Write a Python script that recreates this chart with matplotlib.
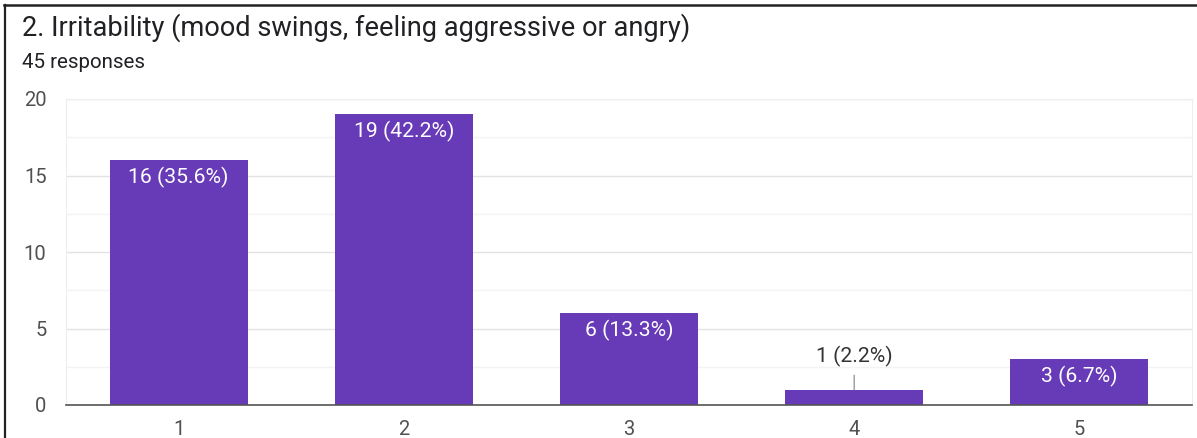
import numpy as np
import matplotlib
matplotlib.use("Agg")
import matplotlib.pyplot as plt
from matplotlib.lines import Line2D

# survey answers for question 2
categories = ["1", "2", "3", "4", "5"]
counts = [16, 19, 6, 1, 3]
total_responses = 45
title = "2. Irritability (mood swings, feeling aggressive or angry)"
subtitle = f"{total_responses} responses"
y_ticks = [0, 5, 10, 15, 20]

plt.rcParams['font.family'] = ['Roboto', 'DejaVu Sans']

W, H = 1197, 438
fig = plt.figure(figsize=(W / 100, H / 100), dpi=100)
fig.patch.set_facecolor('white')

# frame lines of the card box
fig.add_artist(Line2D([4 / W, 1], [1 - 5 / H, 1 - 5 / H], color='#222222', lw=1.8))
fig.add_artist(Line2D([5 / W, 5 / W], [0, 1 - 5 / H], color='#222222', lw=1.6))

fig.text(22 / W, 1 - 28 / H, title, fontsize=19.6, color='#202124', va='center', ha='left')
fig.text(22 / W, 1 - 62 / H, subtitle, fontsize=14.8, color='#202124', va='center', ha='left')

left, right, top, bottom = 66, 1192, 99, 405
ax = fig.add_axes([left / W, 1 - bottom / H, (right - left) / W, (bottom - top) / H])

x = np.arange(len(categories))
bars = ax.bar(x, counts, width=0.613, color='#673AB7', zorder=3)

ax.set_xlim(-0.5, len(categories) - 0.5)
ax.set_ylim(0, 20)
ax.set_yticks(y_ticks)
ax.set_yticks(np.arange(2.5, 20, 5), minor=True)
ax.set_xticks(x)
ax.set_xticklabels(categories)
ax.grid(axis='y', which='major', color='#e3e3e3', lw=1, zorder=0)
ax.grid(axis='y', which='minor', color='#f3f3f3', lw=1, zorder=0)
ax.tick_params(axis='both', which='both', length=0, labelsize=14.5, colors='#505050')
ax.tick_params(axis='y', pad=14)
ax.tick_params(axis='x', pad=11)
for side in ['left', 'right', 'top']:
    ax.spines[side].set_color('#eeeeee')
ax.spines['bottom'].set_color('#555555')
ax.spines['bottom'].set_linewidth(1.2)
ax.spines['bottom'].set_zorder(4)

for xi, c in zip(x, counts):
    label = f"{c} ({c / total_responses * 100:.1f}%)"
    if c >= 2:
        ax.annotate(label, (xi, c), xytext=(0, -5), textcoords='offset points',
                    ha='center', va='top', color='white', fontsize=15.2, zorder=5)
    else:
        ax.annotate(label, (xi, c), xytext=(0, 24), textcoords='offset points',
                    ha='center', va='center', color='#333333', fontsize=15.2, zorder=5,
                    arrowprops=dict(arrowstyle='-', color='#999999', lw=1,
                                    shrinkA=4, shrinkB=0))

fig.savefig("out.png", dpi=100, facecolor='white')
